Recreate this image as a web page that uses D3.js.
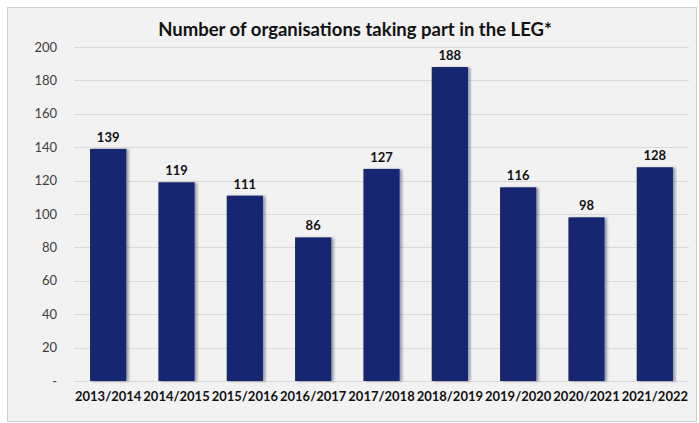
<!DOCTYPE html>
<html>
<head>
<meta charset="utf-8">
<script src="https://cdn.jsdelivr.net/npm/d3@7"></script>
<style>
  html, body { margin: 0; padding: 0; background: #ffffff; }
  svg { display: block; }
  text { font-family: "Lato", "DejaVu Sans", sans-serif; }
</style>
</head>
<body>
<svg id="chart" width="699" height="423"></svg>
<script>
// Academic years and number of participating organisations
const years = ["2013/2014", "2014/2015", "2015/2016", "2016/2017", "2017/2018",
               "2018/2019", "2019/2020", "2020/2021", "2021/2022"];
const organisations = [139, 119, 111, 86, 127, 188, 116, 98, 128];
const yTicks = [0, 20, 40, 60, 80, 100, 120, 140, 160, 180, 200];
const title = "Number of organisations taking part in the LEG*";

const W = 699, H = 423;
const svg = d3.select("#chart");

const defs = svg.append("defs");
const shadow = defs.append("filter").attr("id", "barShadow")
  .attr("x", "-20%").attr("y", "-5%").attr("width", "150%").attr("height", "110%");
shadow.append("feDropShadow").attr("dx", 2.5).attr("dy", 0.5)
  .attr("stdDeviation", 1.2).attr("flood-color", "#000").attr("flood-opacity", 0.35);

// Chart panel
svg.append("rect")
  .attr("x", 7.5).attr("y", 7.5).attr("width", 689).attr("height", 414)
  .attr("fill", "#f2f2f2").attr("stroke", "#d0d0d0").attr("stroke-width", 1);

const plot = { left: 74, right: 689, top: 47, bottom: 381 };

const x = d3.scaleBand().domain(years).range([plot.left, plot.right]).paddingInner(0.47).paddingOuter(0.235);
const y = d3.scaleLinear().domain([0, 200]).range([plot.bottom, plot.top]);

// Gridlines
svg.append("g").selectAll("line").data(yTicks).join("line")
  .attr("x1", plot.left).attr("x2", plot.right)
  .attr("y1", d => Math.round(y(d)) + 0.5).attr("y2", d => Math.round(y(d)) + 0.5)
  .attr("stroke", "#d9d9d9").attr("stroke-width", 1);

// Y axis labels
const yAxis = d3.axisLeft(y).tickValues(yTicks).tickSize(0).tickPadding(0)
  .tickFormat(d => d === 0 ? "-" : d3.format("d")(d));
const gy = svg.append("g").attr("transform", `translate(${plot.left - 17},0)`).call(yAxis);
gy.select(".domain").remove();
gy.selectAll("text").attr("fill", "#404040").attr("font-size", 13)
  .attr("font-family", "Lato, 'DejaVu Sans', sans-serif");

// Bars
svg.append("g").selectAll("rect").data(years).join("rect")
  .attr("x", d => x(d))
  .attr("y", (d, i) => y(organisations[i]))
  .attr("width", x.bandwidth())
  .attr("height", (d, i) => y(0) - y(organisations[i]))
  .attr("fill", "#13276f")
  .attr("filter", "url(#barShadow)");

// Value labels
svg.append("g").selectAll("text").data(years).join("text")
  .attr("x", d => x(d) + x.bandwidth() / 2)
  .attr("y", (d, i) => y(organisations[i]) - 7)
  .attr("text-anchor", "middle")
  .attr("font-size", 13).attr("font-weight", "bold").attr("fill", "#111")
  .text((d, i) => organisations[i]);

// X axis labels
const xAxis = d3.axisBottom(x).tickSize(0).tickPadding(0);
const gx = svg.append("g").attr("transform", `translate(0,${plot.bottom + 11})`).call(xAxis);
gx.select(".domain").remove();
gx.selectAll("text").attr("fill", "#111").attr("font-size", 13).attr("font-weight", "bold")
  .attr("font-family", "Lato, 'DejaVu Sans', sans-serif");

// Title
svg.append("text")
  .attr("x", 355).attr("y", 36)
  .attr("text-anchor", "middle")
  .attr("font-size", 18.5).attr("font-weight", "bold").attr("fill", "#111")
  .text(title);
</script>
</body>
</html>
